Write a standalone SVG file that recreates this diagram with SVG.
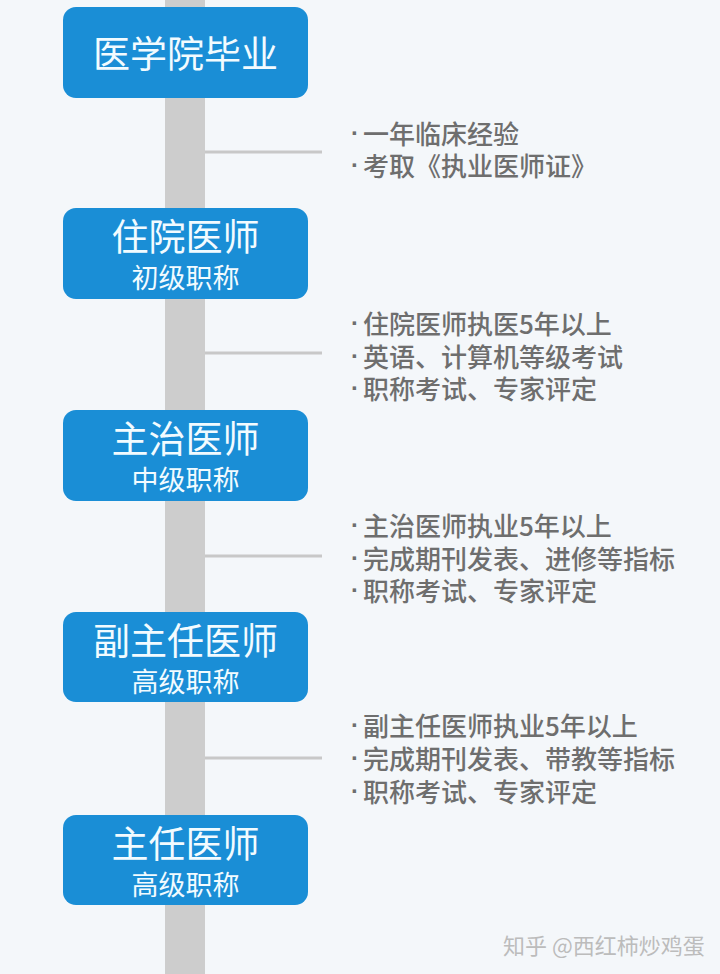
<svg xmlns="http://www.w3.org/2000/svg" width="720" height="974" viewBox="0 0 720 974">
<style>
.node rect{fill:#1a8ed6;}
.t1{font-family:"Noto Sans CJK SC","Noto Sans",sans-serif;font-size:37px;fill:#f2fbff;text-anchor:middle;dominant-baseline:central;}
.t2{font-family:"Noto Sans CJK SC","Noto Sans",sans-serif;font-size:27px;fill:#f2fbff;text-anchor:middle;dominant-baseline:central;}
.d{font-family:"Noto Sans CJK SC","Noto Sans",sans-serif;font-size:26px;font-weight:500;fill:#6e6e6e;dominant-baseline:central;}
.b{font-family:"Liberation Sans",sans-serif;font-size:24px;font-weight:bold;fill:#6e6e6e;dominant-baseline:central;}
.c{stroke:#c8c8c8;stroke-width:3;fill:none;}
.wm{font-family:"Noto Sans CJK SC","Noto Sans",sans-serif;font-size:22px;fill:#bcbcbc;dominant-baseline:central;}
</style>
<rect width="720" height="974" fill="#f4f7fa"/>
<g id="connectors">
<rect x="165" y="0" width="40" height="974" fill="#cdcdcd"/>
<line class="c" x1="205" y1="152" x2="322" y2="152"/>
<line class="c" x1="205" y1="353" x2="322" y2="353"/>
<line class="c" x1="205" y1="556" x2="322" y2="556"/>
<line class="c" x1="205" y1="758" x2="322" y2="758"/>
</g>
<g id="node1" class="node">
<rect x="63" y="7" width="245" height="91" rx="13"/>
<text class="t1" x="185.5" y="52">医学院毕业</text>
</g>
<g id="node2" class="node">
<rect x="63" y="208" width="245" height="91" rx="13"/>
<text class="t1" x="185.5" y="235">住院医师</text>
<text class="t2" x="185.5" y="276">初级职称</text>
</g>
<g id="node3" class="node">
<rect x="63" y="410" width="245" height="91" rx="13"/>
<text class="t1" x="185.5" y="437">主治医师</text>
<text class="t2" x="185.5" y="478">中级职称</text>
</g>
<g id="node4" class="node">
<rect x="63" y="612" width="245" height="90" rx="13"/>
<text class="t1" x="185.5" y="639">副主任医师</text>
<text class="t2" x="185.5" y="680">高级职称</text>
</g>
<g id="node5" class="node">
<rect x="63" y="815" width="245" height="90" rx="13"/>
<text class="t1" x="185.5" y="842">主任医师</text>
<text class="t2" x="185.5" y="883">高级职称</text>
</g>
<g id="notes1">
<text class="b" x="351" y="132">·</text><text class="d" x="363" y="132">一年临床经验</text>
<text class="b" x="351" y="164">·</text><text class="d" x="363" y="164">考取《执业医师证》</text>
</g>
<g id="notes2">
<text class="b" x="351" y="322">·</text><text class="d" x="363" y="322">住院医师执医5年以上</text>
<text class="b" x="351" y="355">·</text><text class="d" x="363" y="355">英语、计算机等级考试</text>
<text class="b" x="351" y="387">·</text><text class="d" x="363" y="387">职称考试、专家评定</text>
</g>
<g id="notes3">
<text class="b" x="351" y="524">·</text><text class="d" x="363" y="524">主治医师执业5年以上</text>
<text class="b" x="351" y="557">·</text><text class="d" x="363" y="557">完成期刊发表、进修等指标</text>
<text class="b" x="351" y="589">·</text><text class="d" x="363" y="589">职称考试、专家评定</text>
</g>
<g id="notes4">
<text class="b" x="351" y="724">·</text><text class="d" x="363" y="724">副主任医师执业5年以上</text>
<text class="b" x="351" y="757">·</text><text class="d" x="363" y="757">完成期刊发表、带教等指标</text>
<text class="b" x="351" y="790">·</text><text class="d" x="363" y="790">职称考试、专家评定</text>
</g>
<text class="wm" x="503" y="944">知乎 @西红柿炒鸡蛋</text>
</svg>
